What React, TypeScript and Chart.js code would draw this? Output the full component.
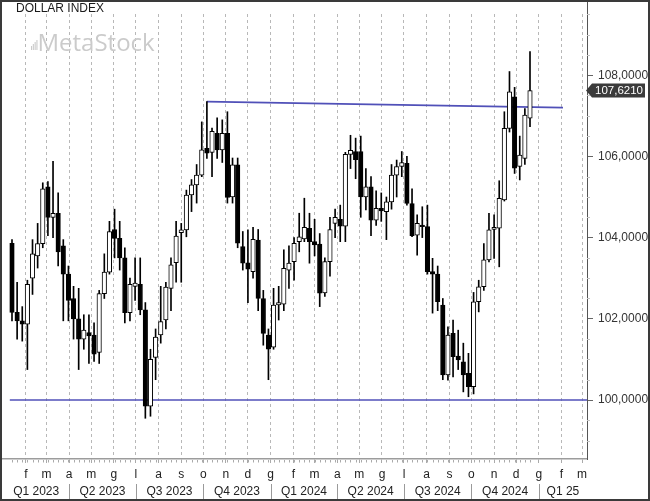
import React, { useEffect, useRef } from 'react';
import { Chart, registerables } from 'chart.js';

Chart.register(...registerables);

const DATES = [
  '2023-01-13','2023-01-20','2023-01-27','2023-02-03','2023-02-10','2023-02-17','2023-02-24',
  '2023-03-03','2023-03-10','2023-03-17','2023-03-24','2023-03-31',
  '2023-04-07','2023-04-14','2023-04-21','2023-04-28',
  '2023-05-05','2023-05-12','2023-05-19','2023-05-26',
  '2023-06-02','2023-06-09','2023-06-16','2023-06-23','2023-06-30',
  '2023-07-07','2023-07-14','2023-07-21','2023-07-28',
  '2023-08-04','2023-08-11','2023-08-18','2023-08-25',
  '2023-09-01','2023-09-08','2023-09-15','2023-09-22','2023-09-29',
  '2023-10-06','2023-10-13','2023-10-20','2023-10-27',
  '2023-11-03','2023-11-10','2023-11-17','2023-11-24',
  '2023-12-01','2023-12-08','2023-12-15','2023-12-22','2023-12-29',
  '2024-01-05','2024-01-12','2024-01-19','2024-01-26',
  '2024-02-02','2024-02-09','2024-02-16','2024-02-23',
  '2024-03-01','2024-03-08','2024-03-15','2024-03-22','2024-03-29',
  '2024-04-05','2024-04-12','2024-04-19','2024-04-26',
  '2024-05-03','2024-05-10','2024-05-17','2024-05-24','2024-05-31',
  '2024-06-07','2024-06-14','2024-06-21','2024-06-28',
  '2024-07-05','2024-07-12','2024-07-19','2024-07-26',
  '2024-08-02','2024-08-09','2024-08-16','2024-08-23','2024-08-30',
  '2024-09-06','2024-09-13','2024-09-20','2024-09-27',
  '2024-10-04','2024-10-11','2024-10-18','2024-10-25',
  '2024-11-01','2024-11-08','2024-11-15','2024-11-22','2024-11-29',
  '2024-12-06','2024-12-13','2024-12-20',
];

const OPEN = [
  103.86, 102.16, 101.95, 101.87, 103.0, 103.55, 103.85, 105.25, 104.5, 104.6,
  103.8, 103.1, 102.5, 102.0, 101.5, 101.66, 101.6, 101.17, 102.62, 103.15,
  104.2, 103.98, 103.5, 102.15, 102.8, 102.85, 102.22, 99.85, 101.05, 101.6,
  101.97, 102.75, 103.38, 104.12, 104.19, 105.05, 105.3, 105.54, 106.2, 106.1,
  106.57, 106.16, 106.57, 105.0, 105.79, 103.78, 103.38, 103.16, 103.94, 102.5,
  101.6, 101.3, 102.34, 102.36, 103.2, 103.41, 103.9, 103.97, 104.23, 103.9,
  103.84, 102.64, 103.41, 104.35, 104.45, 104.28, 106.05, 106.12, 106.12, 105.0,
  105.25, 104.43, 104.72, 104.64, 104.88, 105.54, 105.75, 105.83, 104.84, 104.06,
  104.31, 104.27, 103.16, 103.1, 102.34, 100.62, 101.64, 101.08, 100.94, 100.66,
  100.33, 102.42, 102.79, 103.45, 104.2, 104.23, 104.93, 106.69, 107.47, 105.75,
  105.95, 106.94,
];

const HIGH = [
  103.95, 102.9, 102.3, 102.95, 103.95, 104.35, 105.35, 105.38, 105.88, 105.1,
  103.95, 103.3, 102.8, 102.75, 102.1, 102.1, 101.9, 102.7, 103.6, 104.4,
  104.7, 104.4, 103.75, 103.0, 103.5, 103.5, 102.4, 101.25, 101.75, 102.8,
  102.9, 103.5, 104.4, 104.35, 105.17, 105.43, 105.8, 106.85, 107.35, 106.7,
  106.95, 106.9, 107.1, 105.96, 105.96, 104.15, 104.19, 104.25, 104.2, 102.7,
  101.75, 102.75, 102.8, 103.7, 103.8, 104.0, 104.6, 104.97, 104.6, 104.45,
  104.1, 103.5, 104.5, 104.7, 104.8, 106.1, 106.52, 106.45, 106.5, 105.7,
  105.5, 105.15, 105.1, 105.0, 105.8, 105.91, 106.12, 106.0, 105.2, 104.56,
  104.76, 104.8, 103.49, 103.3, 102.5, 101.8, 101.97, 101.72, 101.4, 101.15,
  102.65, 102.95, 103.85, 104.6, 104.56, 105.4, 107.1, 108.09, 107.7, 106.5,
  107.18, 108.58,
];

const LOW = [
  101.95, 101.5, 101.45, 100.75, 102.6, 103.25, 103.75, 104.05, 104.0, 103.3,
  101.95, 101.95, 101.5, 100.75, 101.25, 100.9, 100.95, 100.9, 102.5, 103.1,
  103.5, 103.2, 101.9, 101.95, 102.45, 102.1, 99.55, 99.6, 100.5, 101.4,
  101.75, 102.2, 102.9, 102.9, 104.02, 104.64, 104.85, 105.5, 105.95, 105.5,
  105.95, 105.85, 104.85, 104.85, 103.75, 103.2, 102.4, 103.0, 102.2, 101.35,
  100.5, 101.25, 101.97, 102.2, 102.75, 102.95, 103.65, 103.9, 103.37, 103.55,
  102.3, 102.55, 103.05, 104.0, 103.9, 103.9, 105.7, 105.45, 104.5, 104.68,
  104.05, 104.3, 104.4, 103.95, 104.7, 105.0, 105.5, 104.8, 104.02, 103.57,
  104.0, 103.1, 102.14, 102.2, 100.5, 100.49, 100.57, 100.75, 100.2, 100.08,
  100.15, 102.17, 102.7, 103.4, 103.49, 103.28, 104.9, 106.6, 105.58, 105.42,
  105.8, 106.73,
];

const CLOSE = [
  102.16, 101.95, 101.87, 102.85, 103.6, 103.85, 105.2, 104.5, 104.6, 103.65,
  103.1, 102.45, 102.0, 101.5, 101.72, 101.58, 101.13, 102.62, 103.15, 104.15,
  103.98, 103.5, 102.15, 102.85, 102.88, 102.22, 99.85, 101.0, 101.55, 101.93,
  102.78, 103.33, 104.04, 104.19, 105.05, 105.3, 105.54, 106.16, 106.08, 106.62,
  106.16, 106.57, 104.99, 105.79, 103.86, 103.37, 103.22, 103.96, 102.5, 101.64,
  101.25, 102.34, 102.4, 103.24, 103.37, 103.86, 104.02, 104.25, 103.9, 103.82,
  102.63, 103.41, 104.2, 104.5, 104.28, 106.05, 106.15, 105.92, 105.0, 105.25,
  104.43, 104.72, 104.66, 104.88, 105.54, 105.75, 105.85, 104.84, 104.05, 104.35,
  104.27, 103.16, 103.1, 102.42, 100.62, 101.6, 101.07, 100.99, 100.62, 100.33,
  102.42, 102.79, 103.45, 104.19, 104.25, 104.97, 106.69, 107.59, 105.71, 106.03,
  107.02, 107.621,
];

const MONTH_STARTS = [
  '2023-02-01','2023-03-01','2023-04-01','2023-05-01','2023-06-01','2023-07-01',
  '2023-08-01','2023-09-01','2023-10-01','2023-11-01','2023-12-01','2024-01-01',
  '2024-02-01','2024-03-01','2024-04-01','2024-05-01','2024-06-01','2024-07-01',
  '2024-08-01','2024-09-01','2024-10-01','2024-11-01','2024-12-01','2025-01-01',
  '2025-02-01','2025-03-01',
];
const MONTH_LABELS = [
  'f','m','a','m','g','l','a','s','o','n','d','g',
  'f','m','a','m','g','l','a','s','o','n','d','g',
  'f','m',
];

const QUARTER_STARTS = [
  '2023-01-01','2023-04-01','2023-07-01','2023-10-01',
  '2024-01-01','2024-04-01','2024-07-01','2024-10-01',
  '2025-01-01','2025-04-01',
];
const QUARTER_LABELS = [
  'Q1 2023','Q2 2023','Q3 2023','Q4 2023',
  'Q1 2024','Q2 2024','Q3 2024','Q4 2024','Q1 25',
];

const TITLE = 'DOLLAR INDEX';
const WATERMARK = 'MetaStock';

const SUPPORT_DATES = ['2023-01-10', '2025-03-08'];
const SUPPORT_VALUES = [100, 100];
const RESIST_DATES = ['2023-10-06', '2025-02-03'];
const RESIST_VALUES = [107.35, 107.2];

const FONT = "'Liberation Sans', Arial, sans-serif";
const LINE_BLUE = '#5050b8';

const day = (s: string) =>
  (Date.parse(s + 'T00:00:00Z') - Date.parse('2023-01-01T00:00:00Z')) / 86400000;

const fmt = (v: number) => v.toFixed(4).replace('.', ',');

const extras = {
  id: 'extras',
  beforeDatasetsDraw(chart: any) {
    const { ctx } = chart;
    ctx.save();
    ctx.fillStyle = '#cbcbcb';
    const hs = [4, 6, 8, 10];
    hs.forEach((h, i) => ctx.fillRect(31 + i * 1.8, 50 - h, 1.1, h));
    ctx.font = "24px 'Open Sans', sans-serif";
    ctx.textAlign = 'left';
    ctx.textBaseline = 'alphabetic';
    ctx.fillText(WATERMARK, 37.5, 51);
    ctx.restore();
  },
  afterDraw(chart: any) {
    const { ctx, chartArea } = chart;
    const x = chart.scales.x;
    const y = chart.scales.y;
    const { left, right, bottom } = chartArea;
    ctx.save();

    // weekly ruler ticks below the time axis
    ctx.strokeStyle = '#aaaaaa';
    ctx.lineWidth = 1;
    ctx.beginPath();
    DATES.forEach((d) => {
      const px = Math.round(x.getPixelForValue(day(d))) + 0.5;
      ctx.moveTo(px, bottom + 1);
      ctx.lineTo(px, bottom + 3.5);
    });
    ctx.stroke();

    // quarter labels and separators
    ctx.font = '12px ' + FONT;
    ctx.fillStyle = '#222';
    ctx.textAlign = 'center';
    ctx.textBaseline = 'middle';
    for (let i = 0; i < QUARTER_LABELS.length; i++) {
      const a = Math.max(x.getPixelForValue(day(QUARTER_STARTS[i])), left);
      const b = Math.min(x.getPixelForValue(day(QUARTER_STARTS[i + 1])), right);
      ctx.fillText(QUARTER_LABELS[i], (a + b) / 2, 492);
    }
    ctx.strokeStyle = '#9a9a9a';
    ctx.beginPath();
    QUARTER_STARTS.forEach((q) => {
      const px = x.getPixelForValue(day(q));
      if (px > left + 6 && px < right - 2) {
        const r = Math.round(px) + 0.5;
        ctx.moveTo(r, 484);
        ctx.lineTo(r, 501);
      }
    });
    ctx.stroke();

    // right axis line extended to the top
    ctx.strokeStyle = '#555';
    ctx.beginPath();
    ctx.moveTo(Math.round(right) + 0.5, 0);
    ctx.lineTo(Math.round(right) + 0.5, bottom);
    ctx.stroke();

    // minor ticks on the value axis
    ctx.strokeStyle = '#c4c4c4';
    ctx.beginPath();
    for (let v = 99; v <= 109.5; v += 0.5) {
      if (Math.abs(v % 2) < 1e-9) continue;
      const py = Math.round(y.getPixelForValue(v)) + 0.5;
      ctx.moveTo(right, py);
      ctx.lineTo(right + 3, py);
    }
    ctx.stroke();

    // last price label
    const last = CLOSE[CLOSE.length - 1];
    const py = y.getPixelForValue(last);
    ctx.fillStyle = '#3b3b3b';
    ctx.beginPath();
    ctx.moveTo(right - 1, py);
    ctx.lineTo(right + 5, py - 7);
    ctx.lineTo(645, py - 7);
    ctx.lineTo(645, py + 7);
    ctx.lineTo(right + 5, py + 7);
    ctx.closePath();
    ctx.fill();
    ctx.fillStyle = '#ffffff';
    ctx.font = '11.5px ' + FONT;
    ctx.textAlign = 'left';
    ctx.textBaseline = 'middle';
    ctx.fillText(fmt(last), 595, py + 0.5);

    // title
    ctx.fillStyle = '#1a1a1a';
    ctx.font = '12px ' + FONT;
    ctx.textAlign = 'left';
    ctx.textBaseline = 'alphabetic';
    ctx.fillText(TITLE, 16, 11.5);

    // outer frame
    ctx.strokeStyle = '#3a3a3a';
    ctx.lineWidth = 2;
    ctx.strokeRect(1, 1, chart.width - 2, chart.height - 2);
    ctx.restore();
  },
};

export default function App() {
  const ref = useRef<HTMLCanvasElement | null>(null);

  useEffect(() => {
    document.body.style.margin = '0';
    const canvas = ref.current;
    if (!canvas) return;

    const wicks = DATES.map((d, i) => ({ x: day(d), y: [LOW[i], HIGH[i]] }));
    const bodies = DATES.map((d, i) => ({ x: day(d), y: [OPEN[i], CLOSE[i]] }));
    const bodyColors = DATES.map((_, i) => (CLOSE[i] >= OPEN[i] ? '#ffffff' : '#000000'));
    const support = SUPPORT_DATES.map((d, i) => ({ x: day(d), y: SUPPORT_VALUES[i] }));
    const resist = RESIST_DATES.map((d, i) => ({ x: day(d), y: RESIST_VALUES[i] }));

    const chart = new Chart(canvas, {
      type: 'bar',
      data: {
        datasets: [
          {
            type: 'line',
            data: support,
            borderColor: LINE_BLUE,
            borderWidth: 1.6,
            pointRadius: 0,
            order: 4,
          } as any,
          {
            type: 'line',
            data: resist,
            borderColor: LINE_BLUE,
            borderWidth: 1.6,
            pointRadius: 0,
            order: 3,
          } as any,
          {
            data: wicks as any,
            backgroundColor: '#000000',
            borderWidth: 0,
            barThickness: 1,
            grouped: false,
            order: 2,
          },
          {
            data: bodies as any,
            backgroundColor: bodyColors,
            borderColor: '#000000',
            borderWidth: 1,
            borderSkipped: false,
            barThickness: 4.5,
            grouped: false,
            order: 1,
          },
        ],
      },
      options: {
        animation: false,
        responsive: false,
        devicePixelRatio: 1,
        layout: { padding: { left: 2, top: 14, right: 0, bottom: 0 } },
        plugins: { legend: { display: false }, tooltip: { enabled: false } },
        scales: {
          x: {
            type: 'linear',
            position: 'bottom',
            min: -1.65,
            max: 796.8,
            offset: false,
            afterBuildTicks: (s: any) => {
              s.ticks = MONTH_STARTS.map((m) => ({ value: day(m) }));
            },
            afterFit: (s: any) => {
              s.height = 42;
            },
            grid: {
              display: true,
              offset: false,
              drawOnChartArea: true,
              drawTicks: true,
              tickLength: 4,
              color: '#b8b8b8',
              tickColor: '#aaaaaa',
              lineWidth: 1,
            },
            border: { display: true, color: '#9c9c9c', width: 1.5, dash: [3, 3] },
            ticks: {
              autoSkip: false,
              maxRotation: 0,
              padding: 4,
              color: '#222',
              font: { family: FONT, size: 12 },
              callback: (_v: any, i: number) => MONTH_LABELS[i] ?? '',
            },
          } as any,
          y: {
            type: 'linear',
            position: 'right',
            min: 98.547,
            max: 109.507,
            afterFit: (s: any) => {
              s.width = 63;
            },
            grid: {
              display: true,
              drawOnChartArea: false,
              drawTicks: true,
              tickLength: 6,
              color: '#666',
            },
            border: { display: true, color: '#555', width: 1 },
            ticks: {
              stepSize: 2,
              includeBounds: false,
              padding: 5,
              color: '#333',
              font: { family: FONT, size: 12 },
              callback: (v: any) => fmt(Number(v)),
            },
          } as any,
        },
      },
      plugins: [extras],
    });

    return () => chart.destroy();
  }, []);

  return (
    <div style={{ position: 'fixed', left: 0, top: 0, width: 650, height: 501, background: '#fff' }}>
      <canvas ref={ref} width={650} height={501} style={{ display: 'block' }} />
    </div>
  );
}
